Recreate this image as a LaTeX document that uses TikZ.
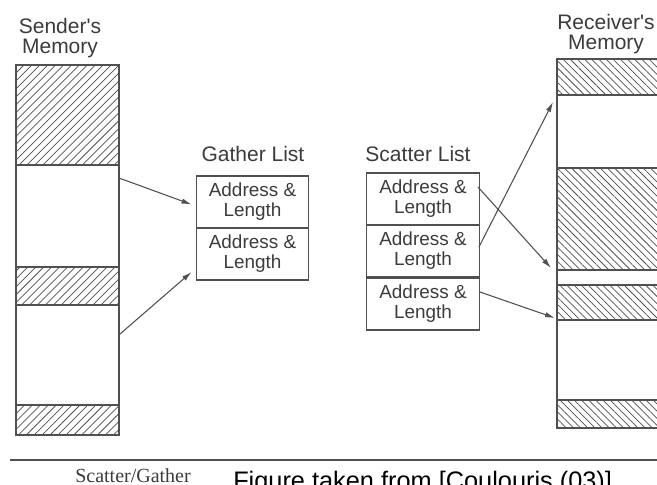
\documentclass[tikz,border=0pt]{standalone}
\usepackage{fontspec}
\setmainfont{Liberation Sans}
\newfontfamily\capserif{Liberation Serif}
\usetikzlibrary{patterns.meta,arrows.meta,calc}
\definecolor{ink}{RGB}{80,80,80}
\definecolor{txt}{RGB}{60,60,60}
\begin{document}
\begin{tikzpicture}[x=0.75pt,y=-0.75pt,
  line/.style={draw=ink,line width=0.9pt},
  hatchS/.style={line, pattern={Lines[angle=45,distance=4.2pt,line width=0.55pt]},pattern color=ink},
  hatchR/.style={line, pattern={Lines[angle=-45,distance=3.8pt,line width=0.55pt]},pattern color=ink},
  blank/.style={line, fill=white},
  cell/.style={draw=ink,line width=0.9pt,minimum width=84.5pt,minimum height=39pt,inner sep=0pt,align=center,font=\fontsize{14.2pt}{15pt}\selectfont,text=txt},
  title/.style={align=center,text=txt,font=\fontsize{15.75pt}{14.5pt}\selectfont,inner sep=0pt},
  arr/.style={draw=ink,line width=0.8pt,-{Latex[length=7.5pt,width=4pt]}}
]
\useasboundingbox (0,0) rectangle (657,485);
\clip (0,0) rectangle (657,485);
\fill[white] (0,0) rectangle (657,485);

% sender's memory
\path[hatchS] (16,65) rectangle (119,165);
\path[blank] (16,165) rectangle (119,267);
\path[hatchS] (16,267) rectangle (119,305);
\path[blank] (16,305) rectangle (119,405);
\path[hatchS] (16,405) rectangle (119,435);

% receiver's memory
\path[hatchR] (557,59) rectangle (700,95);
\path[blank] (557,95) rectangle (700,168);
\path[hatchR] (557,168) rectangle (700,270);
\path[blank] (557,270) rectangle (700,285);
\path[hatchR] (557,285) rectangle (700,320);
\path[blank] (557,320) rectangle (700,400);
\path[hatchR] (557,400) rectangle (700,428);

% titles
\node[title] (sendt) at (60,38) {Sender\textquotesingle s\\Memory};
\node[title] (recvt) at (606,34) {Receiver\textquotesingle s\\Memory};
\node[title] (gt) at (253,154) {Gather List};
\node[title] (st) at (418,154) {Scatter List};

% gather list
\node[cell] (g1) at (252.5,202) {Address \&\\Length};
\node[cell] (g2) at (252.5,254) {Address \&\\Length};

% scatter list
\node[cell] (c1) at (423,199) {Address \&\\Length};
\node[cell] (c2) at (423,251) {Address \&\\Length};
\node[cell] (c3) at (423,304) {Address \&\\Length};

% connectors
\coordinate (sA) at (119,178);
\coordinate (sB) at (120,334);
\coordinate (rA) at (551,268);
\coordinate (rB) at (553,102);
\coordinate (rC) at (555,318);
\draw[arr] (sA) -- ([shift={(-4,2.5)}]g1.west);
\draw[arr] (sB) -- ([shift={(-4,18)}]g2.west);
\draw[arr] ([shift={(-2,-12)}]c1.east) -- (rA);
\draw[arr] ([shift={(-1,-4)}]c2.east) -- (rB);
\draw[arr] ([shift={(0,-12)}]c3.east) -- (rC);

% bottom rule and captions
\draw[ink,line width=1.2pt] (10,460) -- (657,460);
\node[anchor=base west,font=\capserif\fontsize{15pt}{15pt}\selectfont,text=txt,inner sep=0pt] (cap) at (75,482) {Scatter/Gather};
\node[anchor=base west,font=\fontsize{19pt}{19pt}\selectfont,inner sep=0pt] (src) at (233,489) {Figure taken from [Coulouris (03)]};
\end{tikzpicture}
\end{document}
